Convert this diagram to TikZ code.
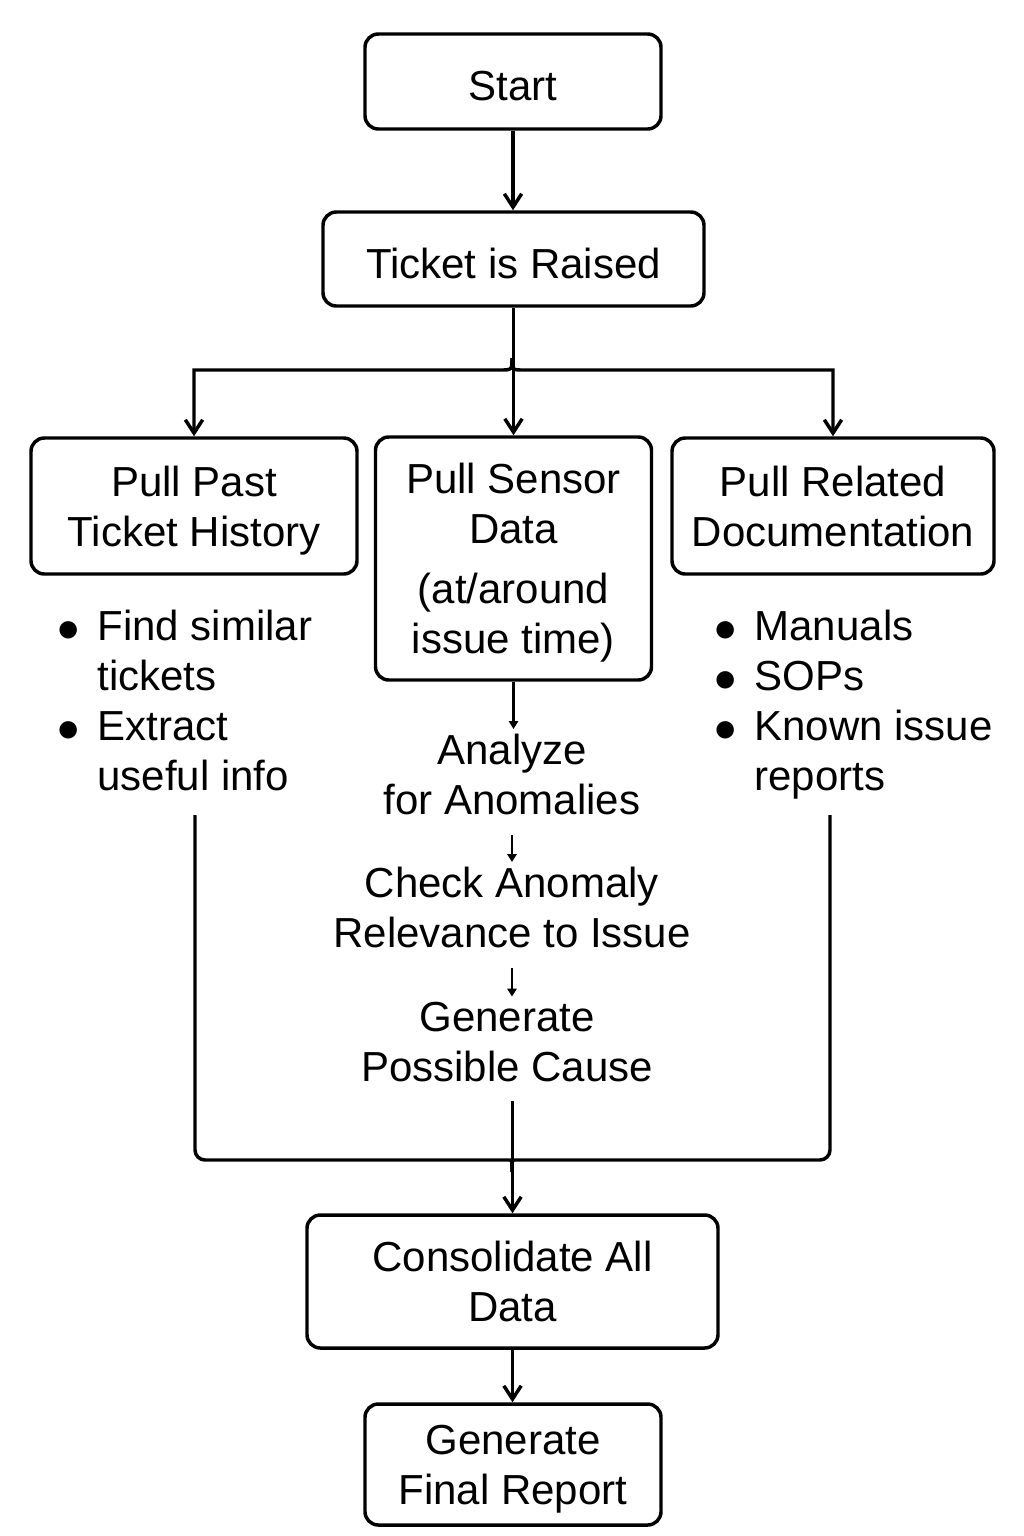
\documentclass[tikz,border=0pt]{standalone}
\usepackage{fontspec}
\usepackage{graphicx}
\setmainfont{Liberation Sans}
\usetikzlibrary{arrows.meta,calc}

\newcommand{\itemdot}{\makebox[15pt][c]{\raisebox{-0.6pt}{\scalebox{1.35}{$\bullet$}}}}

\begin{document}
\begin{tikzpicture}[x=0.75pt,y=0.75pt,yscale=-1,xscale=1,
  every node/.style={font=\fontsize{31.5pt}{37.5pt}\selectfont},
  stepbox/.style={draw,line width=2.6pt,rounded corners=10pt,align=center,inner sep=0pt,
    text depth=0pt,execute at begin node={\rule{0pt}{28.5pt}}},
  note/.style={align=center,inner sep=3.75pt,execute at begin node={\strut},execute at end node={\strut}},
  flow/.style={line width=2.6pt,-{Straight Barb[length=10pt,width=13pt]}},
  link/.style={line width=2.6pt},
  smallflow/.style={line width=1.6pt,-{Triangle[length=6pt,width=7pt]}}]
%set diagram size: 1024 x 1536
\useasboundingbox (0,0) rectangle (1024,1536);

%Boxes
\node[stepbox,minimum width=222pt,minimum height=71.25pt] (start) at (513,81.5) {Start};
\node[stepbox,minimum width=285.75pt,minimum height=70.5pt] (ticket) at (513.5,259) {Ticket is Raised};
\node[stepbox,minimum width=244.5pt,minimum height=102pt] (past) at (194,506) {Pull Past\\Ticket History};
\node[stepbox,minimum width=207pt,minimum height=182.25pt] (sensor) at (513.5,558.5) {Pull Sensor\\Data\\[7.5pt](at/around\\issue time)};
\node[stepbox,minimum width=241.5pt,minimum height=102pt] (docs) at (833,506) {Pull Related\\Documentation};
\node[stepbox,minimum width=308.25pt,minimum height=99.75pt] (consol) at (512.5,1281.5) {Consolidate All\\Data};
\node[stepbox,minimum width=222pt,minimum height=90.75pt] (final) at (513,1464.5) {Generate\\Final Report};

%Bullet lists
\node[anchor=north west,inner sep=0pt] (pastlist) at (58,605) {\begin{tabular}{@{}l@{\hspace{14.5pt}}l@{}}
  \itemdot & Find similar\\ & tickets\\ \itemdot & Extract\\ & useful info
\end{tabular}};
\node[anchor=north west,inner sep=0pt] (docslist) at (715,605) {\begin{tabular}{@{}l@{\hspace{14.5pt}}l@{}}
  \itemdot & Manuals\\ \itemdot & SOPs\\ \itemdot & Known issue\\ & reports
\end{tabular}};

%Sensor steps
\node[note] (analyze) at (512,782) {Analyze\\for Anomalies};
\node[note] (check) at (512,915) {Check Anomaly\\Relevance to Issue};
\node[note] (cause) at (507,1049) {Generate\\Possible Cause};

%Junctions
\coordinate (split) at (512,370);
\coordinate (merge) at (512,1160);
\coordinate (pastend) at (195,815);
\coordinate (docsend) at (830,815);

%Arrows
\draw[flow] (start.south) -- (start.south |- ticket.north);
\draw[flow] (ticket.south) -- (ticket.south |- sensor.north);
\draw[flow] ($(split)+(0,-12)$) .. controls (split) .. ($(split)+(-12,0)$) -| (past.north);
\draw[flow] ($(split)+(0,-12)$) .. controls (split) .. ($(split)+(12,0)$) -| (docs.north);

\draw[smallflow] (sensor.south) -- (sensor.south |- analyze.north);
\draw[smallflow] (analyze.south) -- (check.north);
\draw[smallflow] (check.south) -- (check.south |- cause.north);

\draw[link] (pastend) [rounded corners=7.5pt] |- ($(merge)+(-12,0)$) [sharp corners] .. controls (merge) .. ($(merge)+(0,12)$);
\draw[link] (docsend) [rounded corners=7.5pt] |- ($(merge)+(12,0)$) [sharp corners] .. controls (merge) .. ($(merge)+(0,12)$);
\draw[flow] (cause.south -| consol.north) -- (consol.north);
\draw[flow] (consol.south) -- (consol.south |- final.north);

\end{tikzpicture}
\end{document}
